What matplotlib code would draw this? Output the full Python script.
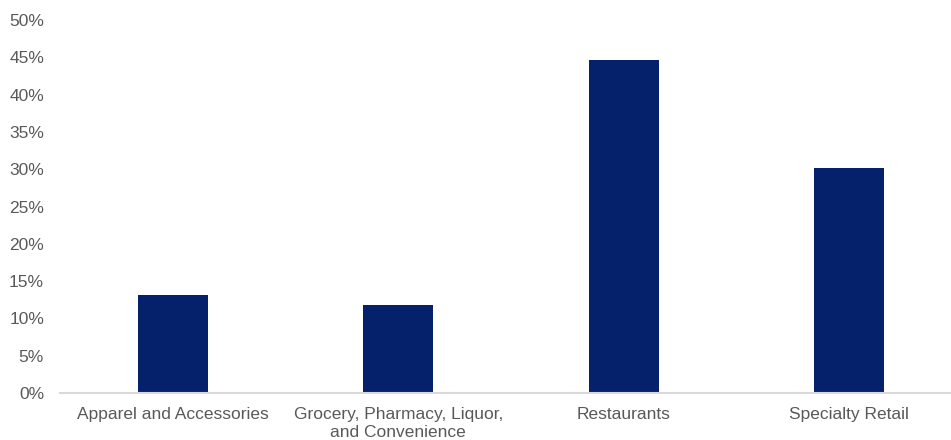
import matplotlib.pyplot as plt
import numpy as np

plt.rcParams['font.family'] = ['Liberation Sans', 'DejaVu Sans']

# Share of category
categories = ["Apparel and Accessories",
              "Grocery, Pharmacy, Liquor,\nand Convenience",
              "Restaurants",
              "Specialty Retail"]
values = [13.1, 11.8, 44.7, 30.2]
y_ticks = [0, 5, 10, 15, 20, 25, 30, 35, 40, 45, 50]

bar_color = "#06216c"
text_color = "#595959"

fig = plt.figure(figsize=(9.51, 4.4), dpi=100)
ax = fig.add_axes([60 / 951, 47 / 440, 893 / 951, 373 / 440])

x = np.arange(len(categories))
ax.bar(x, values, width=0.31, color=bar_color)

ax.set_xlim(-0.5, 3.46)
ax.set_ylim(0, 50)
ax.set_yticks(y_ticks)
ax.set_yticklabels([f"{t}%" for t in y_ticks])
ax.set_xticks(x)
ax.set_xticklabels(categories)
for lbl in ax.get_xticklabels():
    lbl.set_linespacing(1.25)

for s in ["top", "right", "left"]:
    ax.spines[s].set_visible(False)
ax.spines["bottom"].set_color("#d9d9d9")
ax.spines["bottom"].set_linewidth(1.5)

ax.tick_params(axis="both", length=0, labelsize=12.5, colors=text_color)
ax.tick_params(axis="y", pad=11.5)
ax.tick_params(axis="x", pad=10)

fig.savefig("out.png", dpi=100)
